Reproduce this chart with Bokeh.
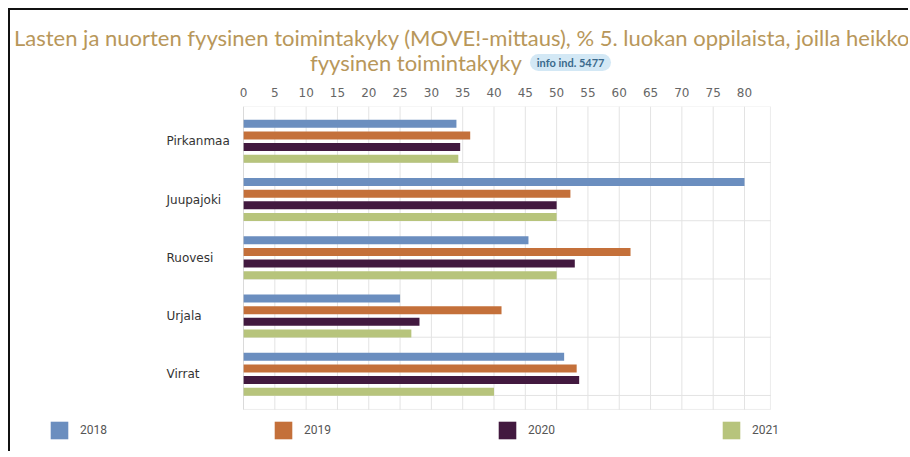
from bokeh.plotting import figure
from bokeh.models import (ColumnDataSource, Range1d, FixedTicker, Div,
                          Legend, LegendItem, BoxAnnotation)
from bokeh.layouts import column
from bokeh.embed import file_html
from bokeh.resources import INLINE

# ---- data ----
categories = ["Pirkanmaa", "Juupajoki", "Ruovesi", "Urjala", "Virrat"]
years = ["2018", "2019", "2020", "2021"]
v2018 = [34.0, 80.0, 45.5, 25.0, 51.2]
v2019 = [36.2, 52.2, 61.8, 41.2, 53.2]
v2020 = [34.6, 50.0, 52.9, 28.1, 53.6]
v2021 = [34.3, 50.0, 50.0, 26.8, 40.0]
x_ticks = list(range(0, 85, 5))
title_line1 = "Lasten ja nuorten fyysinen toimintakyky (MOVE!-mittaus), % 5. luokan oppilaista, joilla heikko"
title_line2 = "fyysinen toimintakyky"
badge_text = "info ind. 5477"

# ---- style ----
series = [v2018, v2019, v2020, v2021]
colors = ["#6b8ebf", "#c4703a", "#42193f", "#b7c47c"]
offsets = [-0.3, -0.1, 0.1, 0.3]
title_color = "#b8975a"
grid_color = "#e3e3e3"

# chart area in data units
X_MAX = 84.15
Y_TOP, Y_BOT = -0.597, 4.604

title_html = f"""
<div style="position:relative;width:898px;height:70px;overflow:hidden;
            font-family:Lato;color:{title_color};font-size:22px;line-height:26px;">
  <div style="position:absolute;left:4px;top:15px;white-space:nowrap;">{title_line1}</div>
  <div style="position:absolute;left:300px;top:40px;white-space:nowrap;">{title_line2}<span
        style="display:inline-block;vertical-align:4px;margin-left:8px;background:#d3e8f5;
               color:#3a6a8c;font-weight:bold;font-size:11px;line-height:17px;
               padding:0 7px;border-radius:9px;">{badge_text}</span></div>
</div>
"""
title_div = Div(text=title_html, width=898, height=70, margin=0)

p = figure(width=892, height=371, output_backend="svg", toolbar_location=None,
           x_range=Range1d(-37.21, 105.23), y_range=Range1d(5.326, Y_TOP),
           x_axis_location="above", y_axis_location=None,
           min_border_left=0, min_border_right=0, min_border_top=26,
           min_border_bottom=0, margin=0)
p.background_fill_color = "white"
p.border_fill_color = "white"
p.outline_line_color = None
p.grid.visible = False

ax = p.xaxis[0]
ax.ticker = FixedTicker(ticks=x_ticks)
ax.axis_line_color = None
ax.major_tick_line_color = None
ax.minor_tick_line_color = None
ax.major_label_text_font = "DejaVu Sans"
ax.major_label_text_font_size = "12px"
ax.major_label_text_color = "#666666"
ax.major_label_standoff = 4

idx = list(range(len(categories)))

# grid lines restricted to the chart area
p.segment(x0=x_ticks, x1=x_ticks, y0=Y_TOP, y1=Y_BOT, line_color=grid_color, line_width=1)
hb = [i + 0.364 for i in idx]
p.segment(x0=0, x1=X_MAX, y0=hb, y1=hb, line_color=grid_color, line_width=1)

items = []
for yr, vals, col, off in zip(years, series, colors, offsets):
    src = ColumnDataSource(dict(y=[i + off for i in idx], v=vals))
    r = p.hbar(y="y", left=0, right="v", height=0.137, source=src,
               fill_color=col, line_color=None)
    items.append(LegendItem(label=yr, renderers=[r]))

p.add_layout(BoxAnnotation(left=0, right=X_MAX, top=Y_TOP, bottom=Y_BOT,
                           fill_alpha=0, line_color="#c2c2c2", line_width=1))

p.text(x=-12.3, y=idx, text=categories, text_align="left", text_baseline="middle",
       text_font={"value": "DejaVu Sans"}, text_font_size="12px", text_color="#333333")

legend = Legend(items=items, orientation="horizontal", location=(38, 10),
                glyph_width=22, glyph_height=22, label_standoff=10, label_width=170,
                spacing=22, padding=0, margin=0, border_line_color=None,
                background_fill_alpha=0, label_text_font="Roboto",
                label_text_font_size="12px", label_text_color="#555555")
p.add_layout(legend, "center")

layout = column(title_div, p, spacing=0)
layout.styles = {"margin-left": "8px", "margin-top": "8px",
                 "border-top": "2px solid #111", "border-left": "2px solid #111",
                 "background": "white"}

open("out.html", "w").write(file_html(layout, INLINE))
